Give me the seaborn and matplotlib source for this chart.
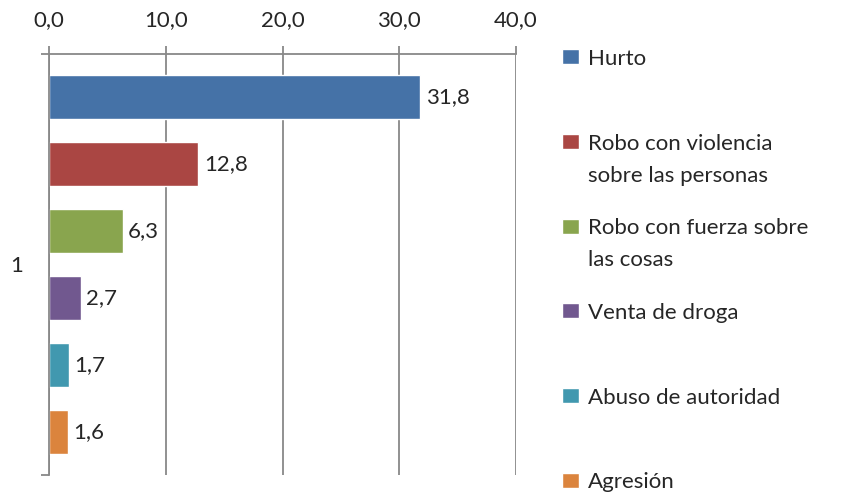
import pandas as pd
import seaborn as sns
import matplotlib.pyplot as plt
from matplotlib.patches import Patch, Rectangle
from matplotlib.legend_handler import HandlerPatch
from matplotlib.ticker import FuncFormatter

# datos
delitos = ["Hurto", "Robo con violencia sobre las personas",
           "Robo con fuerza sobre las cosas", "Venta de droga",
           "Abuso de autoridad", "Agresión"]
leyenda = ["Hurto\n ", "Robo con violencia\nsobre las personas",
           "Robo con fuerza sobre\nlas cosas", "Venta de droga\n ",
           "Abuso de autoridad\n ", "Agresión"]
porcentajes = [31.8, 12.8, 6.3, 2.7, 1.7, 1.6]
categoria = ["1"] * 6
colores = ["#4572A7", "#AA4643", "#89A54E", "#71588F", "#4198AF", "#DB843D"]
gris = "#888888"

sns.set_style("white")
plt.rcParams['font.family'] = ['Lato', 'DejaVu Sans']
fs = 16

df = pd.DataFrame({"cat": categoria, "delito": delitos, "pct": porcentajes})

fig = plt.figure(figsize=(8.46, 4.95), dpi=100)
ax = fig.add_axes([49/846, 1-475/495, (516-49)/846, (475-54)/495])

sns.barplot(data=df, x="pct", y="cat", hue="delito", hue_order=delitos,
            palette=colores, orient="h", width=0.955, gap=0.33,
            saturation=1, ax=ax, legend=False)

for cont, v in zip(ax.containers, porcentajes):
    ax.bar_label(cont, labels=[f"{v:.1f}".replace(".", ",")], padding=4,
                 fontsize=fs)

ax.set_xlim(0, 40)
ax.set_ylim(0.5, -0.5)
ax.set_xticks([0, 10, 20, 30, 40])
ax.xaxis.set_major_formatter(FuncFormatter(lambda v, p: f"{v:.1f}".replace(".", ",")))
ax.xaxis.tick_top()
ax.tick_params(axis="x", direction="out", length=6, width=1.3, color=gris,
               labelsize=fs, pad=11)
ax.set_yticks([-0.5, 0.5], minor=True)
ax.tick_params(axis="y", which="minor", direction="out", length=6,
               width=1.3, color=gris, left=True)
ax.tick_params(axis="y", which="major", length=0, labelsize=fs, pad=19)
ax.grid(axis="x", color=gris, lw=1.3)
ax.grid(axis="y", visible=False)
for s in ["right", "bottom"]:
    ax.spines[s].set_visible(False)
for s in ["top", "left"]:
    ax.spines[s].set_color(gris)
    ax.spines[s].set_linewidth(1.3)
ax.set_xlabel("")
ax.set_ylabel("")


# cuadro de leyenda alineado con la primera linea del texto
def cuadro(legend, orig_handle, xdescent, ydescent, width, height, fontsize):
    return Rectangle((-xdescent, -ydescent + 13.2), width, height)


handles = [Patch(facecolor=c) for c in colores]
hmap = {Patch: HandlerPatch(patch_func=cuadro), handles[-1]: HandlerPatch()}
leg = ax.legend(handles, leyenda, loc="upper left",
                bbox_to_anchor=(562/846, 1-49/495), bbox_transform=fig.transFigure,
                frameon=False, fontsize=fs, borderpad=0, borderaxespad=0,
                handlelength=0.75, handleheight=0.66, handletextpad=0.4,
                labelspacing=1.47, handler_map=hmap)
for t in leg.get_texts():
    t.set_linespacing(1.75)

fig.savefig("out.png", dpi=100)
